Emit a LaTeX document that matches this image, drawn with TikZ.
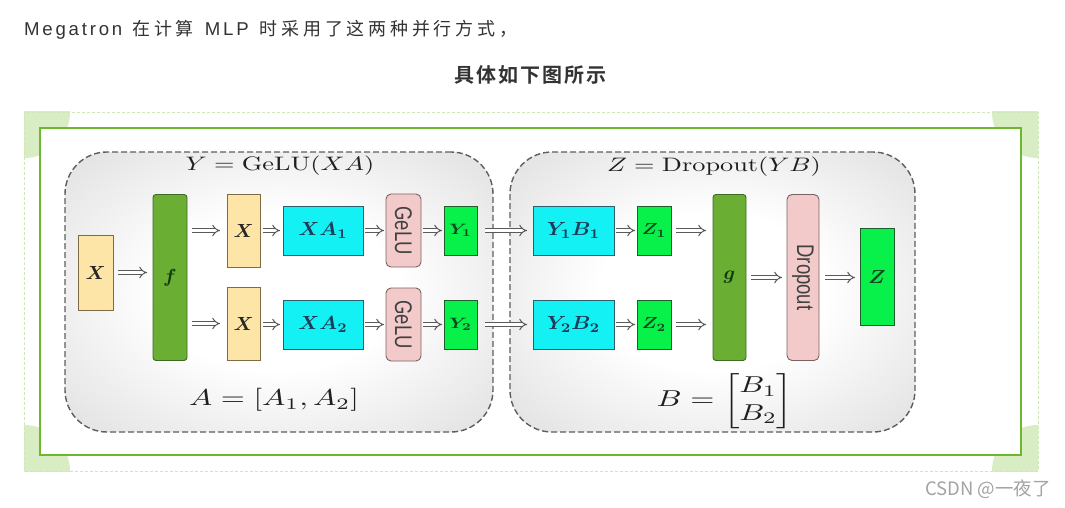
\documentclass[tikz,border=0pt]{standalone}
\usepackage{amsmath}
\usepackage{graphicx}
\usepackage{fontspec}
\newfontfamily\cjkfont{Noto Sans CJK SC}[LetterSpace=21]
\newfontfamily\cjkbold{Noto Sans CJK SC Bold}[LetterSpace=10]
\newfontfamily\latfont{Liberation Sans}[LetterSpace=15]
\newfontfamily\wmfont{Noto Sans CJK SC}
\newfontfamily\boxsans{Liberation Sans}
\usetikzlibrary{arrows.meta}
\definecolor{pagetext}{HTML}{333333}
\definecolor{wmgray}{HTML}{A3A3A3}
\definecolor{frameDash}{HTML}{CFE7B4}
\definecolor{frameDisc}{HTML}{D9EDC4}
\definecolor{frameLine}{HTML}{6DB82E}
\definecolor{panelLine}{HTML}{5E5E5E}
\definecolor{yelF}{HTML}{FCE5A6}
\definecolor{yelB}{HTML}{7D6B46}
\definecolor{dgF}{HTML}{6AAE34}
\definecolor{dgB}{HTML}{3E6B22}
\definecolor{dgT}{HTML}{0E3A0E}
\definecolor{cyF}{HTML}{13F1F5}
\definecolor{cyB}{HTML}{2B5F6E}
\definecolor{cyT}{HTML}{1B3D58}
\definecolor{pkF}{HTML}{F3CACA}
\definecolor{pkB}{HTML}{7D6262}
\definecolor{bgF}{HTML}{08F04A}
\definecolor{bgB}{HTML}{1E5E2A}
\definecolor{bgT}{HTML}{0F4A1F}
\definecolor{arrowGray}{HTML}{5A5A5A}
\pgfdeclareradialshading{panelshade}{\pgfpoint{0bp}{0bp}}{color(0bp)=(white); color(14bp)=(white); color(50bp)=(black!20); color(72bp)=(black!32)}
% scaled math: #1 = x factor, #2 = y factor
\newcommand{\msc}[3]{\scalebox{#1}[#2]{#3}}
\newcommand{\bsc}[3]{\scalebox{#1}[#2]{\boldmath$#3$}}
\newcommand{\vstr}[1]{\scalebox{1}[1.3]{#1}}
\begin{document}
\begin{tikzpicture}[x=1pt,y=-1pt,
  bx/.style={line width=0.9pt, inner sep=0pt, outer sep=0pt},
  yel/.style={bx, draw=yelB, fill=yelF, text=black!85},
  dgr/.style={bx, draw=dgB, fill=dgF, text=dgT, rounded corners=3pt},
  cyn/.style={bx, draw=cyB, fill=cyF, text=cyT},
  pnk/.style={bx, draw=pkB, fill=pkF, text=black!75, rounded corners=5pt, font=\boxsans\fontsize{18.5}{21}\selectfont},
  bgr/.style={bx, draw=bgB, fill=bgF, text=bgT},
  panel/.style={draw=panelLine, line width=1.4pt, dash pattern=on 6pt off 3pt, rounded corners=42pt, shading=panelshade, inner sep=0pt},
  dbl/.style={draw=arrowGray, line width=1pt, double=white, double distance=3pt, -{Implies}},
  lab/.style={inner sep=0pt, text=black!88}
]
\useasboundingbox (0,0) rectangle (1065,508);
\fill[white] (0,0) rectangle (1065,508);

% page text
\node[anchor=base west, inner sep=0pt, text=pagetext] (line1) at (24,36)
  {\latfont\fontsize{18.6}{22}\selectfont Megatron\hspace{10pt}{\cjkfont\fontsize{18}{22}\selectfont 在计算}\hspace{11pt}MLP\hspace{11pt}{\cjkfont\fontsize{18}{22}\selectfont 时采用了这两种并行方式，}};
\node[anchor=base, inner sep=0pt, text=pagetext] (title) at (530,83)
  {\cjkbold\fontsize{20}{24}\selectfont 具体如下图所示};

% outer frame
\begin{scope}
  \clip (24,112) rectangle (1038,471);
  \fill[frameDisc] (24,112) circle (46);
  \fill[frameDisc] (1038,112) circle (46);
  \fill[frameDisc] (24,471) circle (46);
  \fill[frameDisc] (1038,471) circle (46);
\end{scope}
\draw[frameDash, line width=0.8pt, dash pattern=on 3pt off 2pt] (24,112) rectangle (1038,471);
\fill[white] (40,128) rectangle (1021,455);
\draw[frameLine, line width=1.2pt] (40,128) rectangle (1021,455);

% panels
\node[panel, minimum width=428pt, minimum height=280pt] (pl) at (279,292) {};
\node[panel, minimum width=405pt, minimum height=280pt] (pr) at (712.5,292) {};

% left panel nodes
\node[yel, minimum width=35pt, minimum height=75pt] (xin) at (95.5,272.5) {\bsc{1.95}{1.9}{X}};
\node[dgr, minimum width=34pt, minimum height=166pt] (f) at (170,277.5) {\bsc{2.0}{1.9}{f}};
\node[yel, minimum width=33pt, minimum height=73pt] (x1) at (243.5,230.5) {\bsc{1.95}{1.9}{X}};
\node[yel, minimum width=33pt, minimum height=73pt] (x2) at (243.5,323.5) {\bsc{1.95}{1.9}{X}};
\node[cyn, minimum width=80pt, minimum height=49pt] (xa1) at (323,230.5) {\bsc{2.05}{1.9}{XA_1}};
\node[cyn, minimum width=80pt, minimum height=49pt] (xa2) at (323,324.5) {\bsc{2.05}{1.9}{XA_2}};
\node[pnk, minimum width=35pt, minimum height=73pt] (ge1) at (403.5,230.5) {\rotatebox{-90}{\vstr{GeLU}}};
\node[pnk, minimum width=35pt, minimum height=73pt] (ge2) at (403.5,324.5) {\rotatebox{-90}{\vstr{GeLU}}};
\node[bgr, minimum width=33pt, minimum height=49pt] (y1) at (460.5,230.5) {\bsc{1.9}{1.5}{Y_1}};
\node[bgr, minimum width=33pt, minimum height=49pt] (y2) at (460.5,324.5) {\bsc{1.9}{1.5}{Y_2}};

% right panel nodes
\node[cyn, minimum width=81pt, minimum height=49pt] (yb1) at (573.5,230.5) {\bsc{2.1}{1.9}{Y_1B_1}};
\node[cyn, minimum width=81pt, minimum height=49pt] (yb2) at (573.5,324.5) {\bsc{2.1}{1.9}{Y_2B_2}};
\node[bgr, minimum width=34pt, minimum height=49pt] (z1) at (654,230.5) {\bsc{1.9}{1.6}{Z_1}};
\node[bgr, minimum width=34pt, minimum height=49pt] (z2) at (654,324.5) {\bsc{1.9}{1.6}{Z_2}};
\node[dgr, minimum width=33pt, minimum height=166pt] (g) at (729.5,277.5) {\bsc{2.0}{1.9}{g}};
\node[pnk, minimum width=32pt, minimum height=166pt] (dr) at (803,277.5) {\rotatebox{-90}{\vstr{Dropout}}};
\node[bgr, minimum width=34pt, minimum height=97pt] (z) at (877,277) {\bsc{2.1}{1.9}{Z}};

% labels
\node[lab] (lt) at (280,166) {\msc{2.63}{1.95}{$Y = \mathrm{GeLU}(XA)$}};
\node[lab] (rt) at (714,167) {\msc{2.63}{1.95}{$Z = \mathrm{Dropout}(YB)$}};
\node[lab] (lb) at (274,400) {\msc{3.1}{2.3}{$A = [A_1, A_2]$}};
\node[lab] (rb) at (725,401) {\msc{3.1}{2.3}{$B = \begin{bmatrix} B_1 \\ B_2 \end{bmatrix}$}};

% arrows
\draw[dbl, shorten <=5pt, shorten >=6pt] (xin.east) -- (xin.east -| f.west);
\draw[dbl, shorten <=5pt, shorten >=7pt] (f.east |- x1.west) -- (x1.west);
\draw[dbl, shorten <=5pt, shorten >=7pt] (f.east |- x2.west) -- (x2.west);
\draw[dbl, shorten <=3pt, shorten >=3pt] (x1.east |- xa1.west) -- (xa1.west);
\draw[dbl, shorten <=3pt, shorten >=3pt] (x2.east |- xa2.west) -- (xa2.west);
\draw[dbl, shorten <=2pt, shorten >=2pt] (xa1.east) -- (xa1.east -| ge1.west);
\draw[dbl, shorten <=2pt, shorten >=2pt] (xa2.east) -- (xa2.east -| ge2.west);
\draw[dbl, shorten <=2pt, shorten >=2pt] (ge1.east |- y1.west) -- (y1.west);
\draw[dbl, shorten <=2pt, shorten >=2pt] (ge2.east |- y2.west) -- (y2.west);
\draw[dbl, shorten <=8pt, shorten >=6pt] (y1.east) -- (yb1.west);
\draw[dbl, shorten <=8pt, shorten >=6pt] (y2.east) -- (yb2.west);
\draw[dbl, shorten <=2pt, shorten >=2pt] (yb1.east) -- (z1.west);
\draw[dbl, shorten <=2pt, shorten >=2pt] (yb2.east) -- (z2.west);
\draw[dbl, shorten <=5pt, shorten >=7pt] (z1.east) -- (z1.east -| g.west);
\draw[dbl, shorten <=5pt, shorten >=7pt] (z2.east) -- (z2.east -| g.west);
\draw[dbl, shorten <=5pt, shorten >=5pt] (g.east) -- (dr.west);
\draw[dbl, shorten <=6pt, shorten >=5pt] (dr.east) -- (dr.east -| z.west);

% watermark
\node[anchor=east, inner sep=0pt, text=wmgray, font=\wmfont\fontsize{18.5}{21}\selectfont] (wm) at (1051,489) {CSDN @一夜了};
\end{tikzpicture}
\end{document}
